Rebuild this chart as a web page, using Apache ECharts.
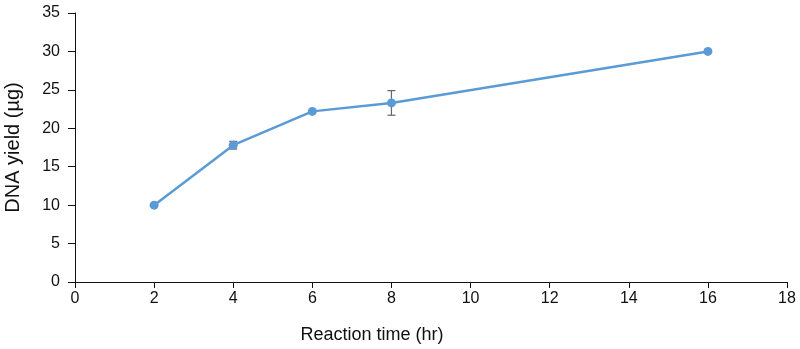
<!DOCTYPE html>
<html><head><meta charset="utf-8">
<script src="https://cdn.jsdelivr.net/npm/echarts@6/dist/echarts.min.js"></script>
<style>html,body{margin:0;padding:0;background:#fff}#c{width:800px;height:349px}</style>
</head><body><div id="c"></div>
<script>
var times = [2, 4, 6, 8, 16];
var yields = [10.0, 17.8, 22.2, 23.3, 30.0];
var errLow = [10.0, 17.3, 22.2, 21.7, 30.0];
var errHigh = [10.0, 18.3, 22.2, 24.9, 30.0];
var xTicks = [0, 2, 4, 6, 8, 10, 12, 14, 16, 18];
var yTicks = [0, 5, 10, 15, 20, 25, 30, 35];

var lineData = times.map(function (t, i) { return [t, yields[i]]; });
var errData = times.map(function (t, i) { return [t, errLow[i], errHigh[i]]; }).filter(function (d) { return d[2] - d[1] > 0; });

var chart = echarts.init(document.getElementById('c'), null, { renderer: 'canvas' });
var font = '"Liberation Sans", Arial, sans-serif';
chart.setOption({
  animation: false,
  grid: { left: 75, right: 13, top: 13, bottom: 67, containLabel: false, outerBoundsMode: 'none' },
  xAxis: {
    type: 'value', min: xTicks[0], max: xTicks[xTicks.length - 1], interval: 2,
    name: 'Reaction time (hr)', nameLocation: 'middle', nameGap: 44,
    nameTextStyle: { fontSize: 18, color: '#111', fontFamily: font, padding: [0, 118, 0, 0] },
    axisLine: { lineStyle: { color: '#111', width: 1 } },
    axisTick: { show: true, length: 6, lineStyle: { color: '#111' } },
    axisLabel: { fontSize: 16, color: '#111', margin: 9, fontFamily: font },
    splitLine: { show: false }
  },
  yAxis: {
    type: 'value', min: yTicks[0], max: yTicks[yTicks.length - 1], interval: 5,
    name: 'DNA yield (µg)', nameLocation: 'middle', nameGap: 52, nameRotate: 90,
    nameTextStyle: { fontSize: 20, color: '#111', fontFamily: font },
    axisLine: { show: true, lineStyle: { color: '#111', width: 1 } },
    axisTick: { show: true, length: 7, lineStyle: { color: '#111' } },
    axisLabel: { fontSize: 16, color: '#111', margin: 15, fontFamily: font },
    splitLine: { show: false }
  },
  series: [
    {
      type: 'line', data: lineData, symbol: 'circle', symbolSize: 9,
      lineStyle: { color: '#5B9BD5', width: 2.5 },
      itemStyle: { color: '#5B9BD5' }, z: 3
    },
    {
      type: 'custom', data: errData, z: 2,
      renderItem: function (params, api) {
        var x = api.value(0);
        var lo = api.coord([x, api.value(1)]);
        var hi = api.coord([x, api.value(2)]);
        var hw = 4;
        var st = { stroke: '#666', lineWidth: 1.2 };
        return { type: 'group', children: [
          { type: 'line', shape: { x1: lo[0], y1: lo[1], x2: hi[0], y2: hi[1] }, style: st },
          { type: 'line', shape: { x1: lo[0] - hw, y1: lo[1], x2: lo[0] + hw, y2: lo[1] }, style: st },
          { type: 'line', shape: { x1: hi[0] - hw, y1: hi[1], x2: hi[0] + hw, y2: hi[1] }, style: st }
        ] };
      }
    }
  ]
});
</script></body></html>
